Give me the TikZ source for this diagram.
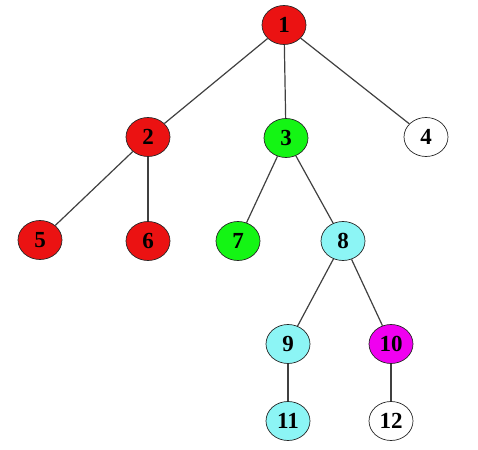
\documentclass[tikz,border=0pt]{standalone}
\usepackage{fontspec}
\setmainfont{Liberation Serif}
\usetikzlibrary{shapes.geometric}
\definecolor{nodered}{RGB}{235,18,18}
\definecolor{nodegreen}{RGB}{20,245,20}
\definecolor{nodecyan}{RGB}{140,245,245}
\definecolor{nodemagenta}{RGB}{240,0,240}
\begin{document}
\begin{tikzpicture}[x=1pt, y=-1pt,
    every node/.style={ellipse,draw=black!85,line width=0.7pt,minimum width=44pt,minimum height=39pt,inner sep=0pt,font=\fontsize{23}{23}\selectfont\bfseries},
    rednode/.style={fill=nodered}, greennode/.style={fill=nodegreen},
    cyannode/.style={fill=nodecyan}, magentanode/.style={fill=nodemagenta},
    whitenode/.style={fill=white}]
            \useasboundingbox (0,0) rectangle (478,449);
            % Root
            \node[rednode] (1) at (284,25) {1};
            % Second level
            \node[rednode] (2) at (148,137) {2};
            \node[greennode] (3) at (286,138) {3};
            \node[whitenode] (4) at (426,137) {4};
            % Third level
            \node[rednode] (5) at (40,240) {5};
            \node[rednode] (6) at (148,241) {6};
            \node[greennode] (7) at (238,241) {7};
            \node[cyannode] (8) at (343,241) {8};
            % Fourth level
            \node[cyannode] (9) at (288,344) {9};
            \node[magentanode] (10) at (391,344) {10};
            % Leaves
            \node[cyannode] (11) at (288,421) {11};
            \node[whitenode] (12) at (391,421) {12};

            % Edges
            \begin{scope}[line width=1.2pt, draw=black!75]
            \draw (1) -- (2);
            \draw (1) -- (3);
            \draw (1) -- (4);
            \draw (2) -- (5);
            \draw (2) -- (6);
            \draw (3) -- (7);
            \draw (3) -- (8);
            \draw (8) -- (9);
            \draw (8) -- (10);
            \draw (9) -- (11);
            \draw (10) -- (12);
            \end{scope}
          \end{tikzpicture}
\end{document}
